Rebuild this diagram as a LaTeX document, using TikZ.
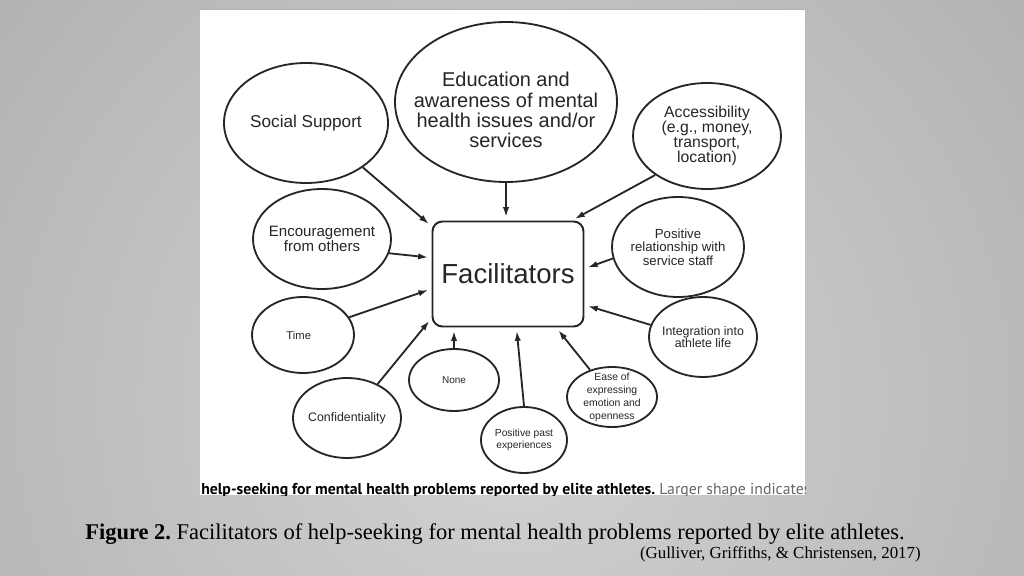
\documentclass[tikz,border=0pt]{standalone}
\usepackage{fontspec}
\setmainfont{Liberation Sans}
\newfontfamily\capfont{Liberation Serif}
\newfontfamily\notefont{PT Sans}
\usepackage{tikz}
\usetikzlibrary{shapes.geometric,arrows.meta}
\frenchspacing

\newlength\pix
\setlength\pix{0.025cm}
\definecolor{bgin}{HTML}{D3D3D3}
\definecolor{bgout}{HTML}{8C8C8C}
\pgfdeclareradialshading{backshade}{\pgfpoint{0bp}{0bp}}{color(0bp)=(bgin); color(50bp)=(bgout)}

\begin{document}
\begin{tikzpicture}[x=0.025cm, y=-0.025cm,
                bubble/.style={ellipse, draw=black!85, line width=1.3pt, fill=white, inner sep=-25pt, align=center, text=black!85},
                hub/.style={rectangle, rounded corners=7pt, draw=black!85, line width=1.4pt, fill=white, minimum width=151\pix, minimum height=105\pix, text=black!85, font=\fontsize{19.6}{22}\selectfont},
                arrow/.style={line width=1.3pt, draw=black!85, -{Latex[length=7pt,width=4.5pt]}, shorten >=2.5pt}
                ]
                \useasboundingbox (0,0) rectangle (1024,576);
                % background and white panel
                \begin{scope}
                    \clip (0,0) rectangle (1024,576);
                    \shade[shading=backshade] (512,400) circle (720);
                \end{scope}
                \fill[white] (200,9) rectangle (805,495);
                \draw[black!30, line width=0.6pt] (200,9) -- (805,9);
                \begin{scope}
                    \clip (200,9) rectangle (805,495);
                    \node[anchor=base west, inner sep=0, font=\notefont\fontsize{11.2}{13}\selectfont] (note) at (201,494) {\textbf{help-seeking for mental health problems reported by elite athletes.} \textcolor{black!60}{Larger shape indicates}};
                \end{scope}

                \node[hub] (fac) at (508,274) {Facilitators};
                \node[bubble, minimum width=164\pix, minimum height=120\pix, font=\fontsize{12.2}{14}\selectfont] (social) at (306,123) {Social Support};
                \node[bubble, minimum width=222\pix, minimum height=160\pix, font=\fontsize{14.2}{14.4}\selectfont] (edu) at (506,102) {\rule{0pt}{22pt}Education and\\awareness of mental\\health issues and/or\\services};
                \node[bubble, minimum width=148\pix, minimum height=106\pix, font=\fontsize{11.2}{10.7}\selectfont] (access) at (707,136) {Accessibility\\(e.g., money,\\transport,\\location)};
                \node[bubble, minimum width=132\pix, minimum height=100\pix, font=\fontsize{9.4}{9.6}\selectfont] (relation) at (678,247) {Positive\\relationship with\\service staff};
                \node[bubble, minimum width=108\pix, minimum height=80\pix, font=\fontsize{8.8}{8.8}\selectfont] (integr) at (703,337) {Integration into\\athlete life};
                \node[bubble, minimum width=90\pix, minimum height=60\pix, font=\fontsize{7.4}{9.2}\selectfont] (ease) at (612,397) {Ease of\\expressing\\emotion and\\openness};
                \node[bubble, minimum width=86\pix, minimum height=66\pix, font=\fontsize{7.3}{8.3}\selectfont] (past) at (524,440) {Positive past\\experiences};
                \node[bubble, minimum width=90\pix, minimum height=62\pix, font=\fontsize{7.1}{8.5}\selectfont] (none) at (454,380) {None};
                \node[bubble, minimum width=108\pix, minimum height=80\pix, font=\fontsize{8.8}{10}\selectfont] (confid) at (347,418) {Confidentiality};
                \node[bubble, minimum width=102\pix, minimum height=76\pix, font=\fontsize{8}{9.5}\selectfont] (time) at (303,335) {Time\hspace{6pt}};
                \node[bubble, minimum width=138\pix, minimum height=100\pix, font=\fontsize{10.7}{10.7}\selectfont] (encour) at (322,239) {Encouragement\\from others};

                \draw[arrow] (social.-38) -- (fac.148);
                \draw[arrow] (edu.south) -- (edu.south |- fac.north);
                \draw[arrow] (access.-143) -- (fac.40);
                \draw[arrow] (relation.190) -- (fac.4);
                \draw[arrow] (integr.167) -- (fac.-22);
                \draw[arrow] (ease.129) -- (fac.-48);
                \draw[arrow] (past.north) -- (fac.-81);
                \draw[arrow] (none.north) -- (none.north |- fac.south);
                \draw[arrow] (confid.48) -- (fac.-150);
                \draw[arrow] (time.21) -- (fac.-169);
                \draw[arrow] (encour.-12) -- (fac.168);

                \node[anchor=base west, inner sep=0, font=\capfont\fontsize{16}{19}\selectfont] (caption) at (85,539) {\textbf{Figure 2.} Facilitators of help-seeking for mental health problems reported by elite athletes.};
                \node[anchor=base east, inner sep=0, font=\capfont\fontsize{12}{14}\selectfont] (source) at (921,558) {(Gulliver, Griffiths, \& Christensen, 2017)};
\end{tikzpicture}
\end{document}
